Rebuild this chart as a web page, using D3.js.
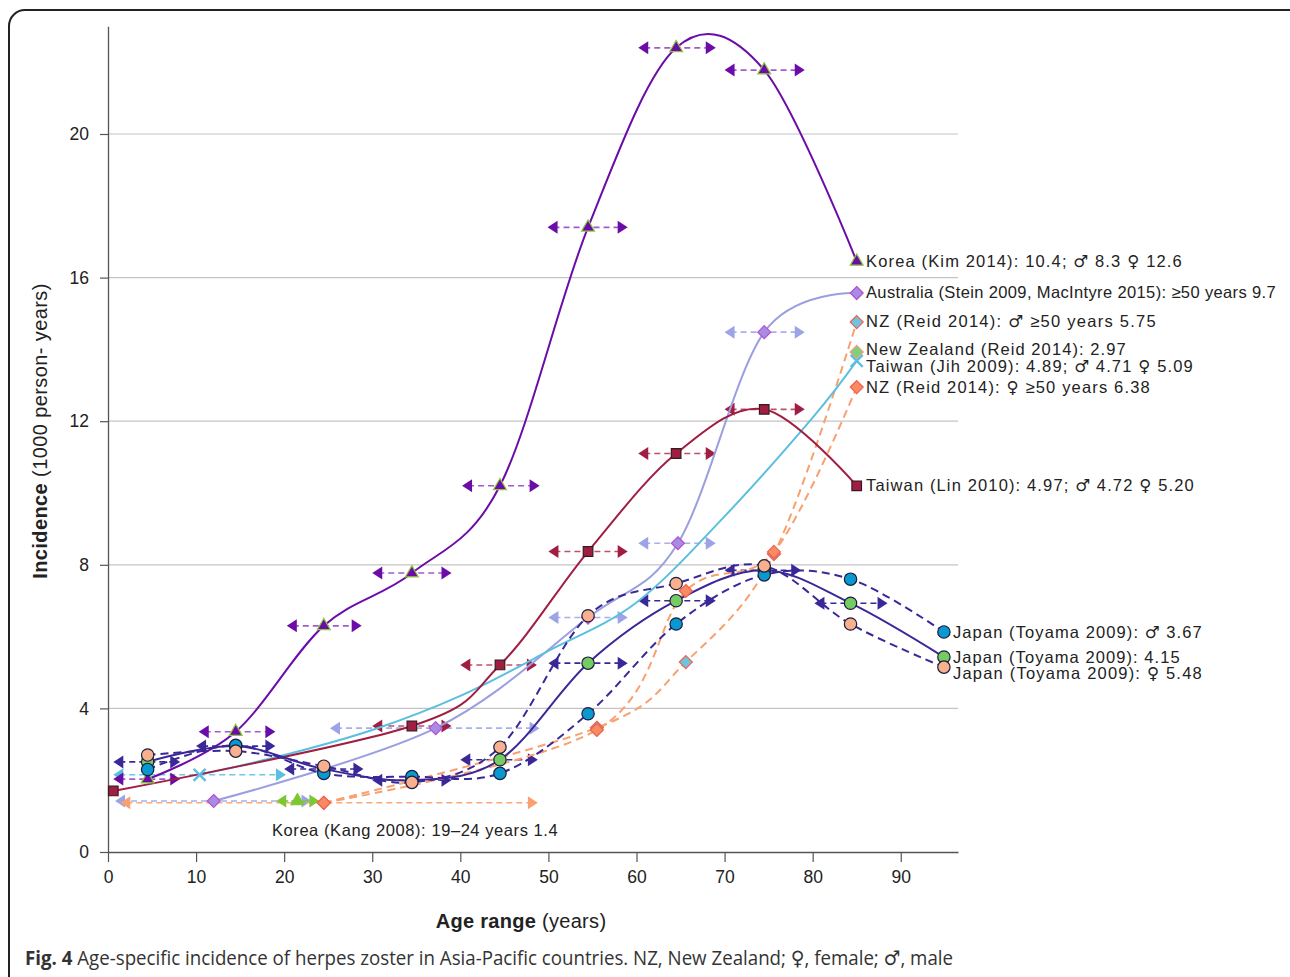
<!DOCTYPE html>
<html>
<head>
<meta charset="utf-8">
<script src="https://cdn.jsdelivr.net/npm/d3@7"></script>
<style>
  body { margin: 0; background: #fff; }
  text { font-family: "Liberation Sans", Arial, sans-serif; }
</style>
</head>
<body>
<div id="wrapper"></div>
<script>
// ---- data ----
const yTicks = [0, 4, 8, 12, 16, 20];
const xTicks = [0, 10, 20, 30, 40, 50, 60, 70, 80, 90];

// Korea (Kim 2014)
const kimAge = [4.5, 14.5, 24.5, 34.5, 44.5, 54.5, 64.5, 74.5, 85];
const kimInc = [2.03, 3.35, 6.3, 7.77, 10.2, 17.4, 22.4, 21.78, 16.45];
const kimLo = [0.6, 10.3, 20.3, 30.0, 40.2, 49.9, 60.2, 70.0, null];
const kimHi = [8.2, 19.0, 28.8, 39.0, 49.0, 59.0, 69.0, 79.1, null];

// Australia (Stein 2009, MacIntyre 2015)
const ausAge = [12, 37.2, 54.5, 64.7, 74.5, 85];
const ausInc = [1.42, 3.45, 6.53, 8.6, 14.48, 15.57];
const ausLo = [0.8, 25.2, 50.0, 60.2, 70.0, null];
const ausHi = [23.1, 49.0, 59.0, 69.0, 79.1, null];

// Taiwan (Lin 2010)
const linAge = [0.6, 34.5, 44.5, 54.5, 64.5, 74.5, 85];
const linInc = [1.7, 3.51, 5.21, 8.37, 11.1, 12.33, 10.2];
const linLo = [null, 30.0, 40.0, 50.0, 60.2, 70.0, null];
const linHi = [null, 39.0, 48.7, 59.0, 69.0, 79.1, null];

// Taiwan (Jih 2009)
const jihAge = [10.4, 20, 30, 40, 50, 60, 70, 80, 85];
const jihInc = [2.15, 2.7, 3.4, 4.35, 5.6, 6.95, 9.35, 12.1, 13.68];
const jihLo = [0.6, null, null, null, null, null, null, null, null];
const jihHi = [20.2, null, null, null, null, null, null, null, null];
const jihMarked = [true, false, false, false, false, false, false, false, true];

// NZ (Reid 2014)
const nzAge = [24.5, 55.5, 65.6, 75.6, 85];
const nzFemale = [1.37, 3.4, 7.27, 8.36, 12.95];
const nzMale = [1.37, 3.46, 5.29, 8.3, 14.76];
const nzLo = [1.4, null, null, null, null];
const nzHi = [48.8, null, null, null, null];
const nzAllAge = [85];
const nzAll = [13.93];

// Korea (Kang 2008)
const kangAge = [21.5];
const kangInc = [1.42];
const kangLo = [19.1];
const kangHi = [24.0];

// Japan (Toyama 2009)
const japAge = [4.5, 14.5, 24.5, 34.5, 44.5, 54.5, 64.5, 74.5, 84.3, 94.9];
const japTotal = [2.51, 2.95, 2.31, 2.0, 2.57, 5.26, 7.0, 7.85, 6.93, 5.43];
const japMale = [2.3, 2.97, 2.19, 2.1, 2.19, 3.85, 6.35, 7.72, 7.6, 6.13];
const japFemale = [2.7, 2.81, 2.39, 1.94, 2.92, 6.58, 7.48, 7.97, 6.35, 5.15];
const japLo = [0.6, 10.0, 20.0, 30.0, 40.0, 50.0, 60.2, 70.0, 80.2, null];
const japHi = [8.2, 19.0, 29.0, 39.0, 48.8, 59.0, 69.0, 78.7, 88.5, null];

// end labels: text and the incidence value they sit at
const labelTexts = [
  'Korea (Kim 2014): 10.4; \u2642 8.3 \u2640 12.6',
  'Australia (Stein 2009, MacIntyre 2015): \u226550 years 9.7',
  'NZ (Reid 2014): \u2642 \u226550  years 5.75',
  'New Zealand (Reid 2014): 2.97',
  'Taiwan (Jih 2009): 4.89; \u2642 4.71 \u2640 5.09',
  'NZ (Reid 2014): \u2640 \u226550 years 6.38',
  'Taiwan (Lin 2010): 4.97; \u2642 4.72 \u2640 5.20'
];
const labelAt = [16.46, 15.6, 14.79, 14.01, 13.54, 12.95, 10.22];
const japLabelTexts = [
  'Japan (Toyama 2009): \u2642 3.67',
  'Japan (Toyama 2009): 4.15',
  'Japan (Toyama 2009): \u2640 5.48'
];
const japLabelAt = [6.13, 5.43, 4.99];
const kangLabel = 'Korea (Kang 2008): 19\u201324 years 1.4';

// layout: printed widths of the end labels in the figure
const labelWidths = [316, 410, 290, 260, 327, 284, 328];
const japLabelWidths = [249, 227, 249];

// ---- chart ----
const width = 1290, height = 977;
const svg = d3.select('#wrapper').append('svg')
  .attr('width', width).attr('height', height);

svg.append('rect')
  .attr('x', 9).attr('y', 10)
  .attr('width', 1295).attr('height', 990)
  .attr('rx', 16)
  .attr('fill', 'none').attr('stroke', '#222').attr('stroke-width', 2);

const x = d3.scaleLinear().domain([0, 96.5]).range([108, 958]);
const y = d3.scaleLinear().domain([0, 23]).range([852, 26.3]);

// gridlines
svg.append('g').selectAll('line')
  .data(yTicks.filter(d => d > 0))
  .join('line')
  .attr('x1', x(0)).attr('x2', x(96.5))
  .attr('y1', d => y(d)).attr('y2', d => y(d))
  .attr('stroke', '#c4c4c4').attr('stroke-width', 1.2);

// axes
const yAxis = svg.append('g')
  .attr('transform', `translate(${x(0)},0)`)
  .call(d3.axisLeft(y).tickValues(yTicks).tickSize(8).tickSizeOuter(0).tickPadding(11));
const xAxis = svg.append('g')
  .attr('transform', `translate(0,${y(0)})`)
  .call(d3.axisBottom(x).tickValues(xTicks).tickSize(10).tickSizeOuter(0).tickPadding(9));
[xAxis, yAxis].forEach(a => {
  a.select('.domain').attr('stroke', '#555').attr('stroke-width', 1.3);
  a.selectAll('.tick line').attr('stroke', '#555').attr('stroke-width', 1.2);
  a.selectAll('.tick text')
    .style('font-family', '"Liberation Sans", Arial, sans-serif')
    .style('font-size', '17.5px').attr('fill', '#222');
});

// axis titles
const yTitle = svg.append('text')
  .attr('transform', 'translate(47,431) rotate(-90)')
  .attr('text-anchor', 'middle')
  .style('font-size', '20px').style('letter-spacing', '0.4px').attr('fill', '#222');
yTitle.append('tspan').style('font-weight', 'bold').text('Incidence');
yTitle.append('tspan').text('  (1000 person- years)');

const xTitle = svg.append('text')
  .attr('x', 521).attr('y', 928)
  .attr('text-anchor', 'middle')
  .style('font-size', '20px').style('letter-spacing', '0.3px').attr('fill', '#222');
xTitle.append('tspan').style('font-weight', 'bold').text('Age range');
xTitle.append('tspan').text('  (years)');

// labels: sex symbols set in DejaVu so they keep full size
function writeLabel(sel, str) {
  str.split(/([\u2640\u2642])/).filter(s => s.length).forEach(part => {
    const t = sel.append('tspan').text(part);
    if (part === '\u2640' || part === '\u2642') t.style('font-family', '"DejaVu Sans", sans-serif').style('font-weight', 'normal');
  });
}

// caption
const cap = svg.append('text')
  .attr('x', 25).attr('y', 965)
  .attr('textLength', 928).attr('lengthAdjust', 'spacingAndGlyphs')
  .style('font-family', '"Liberation Sans Narrow", "Open Sans", sans-serif')
  .style('font-size', '20px').attr('fill', '#333');
cap.append('tspan').style('font-weight', 'bold').text('Fig. 4');
writeLabel(cap, ' Age-specific incidence of herpes zoster in Asia-Pacific countries. NZ, New Zealand; \u2640, female; \u2642, male');

// helpers
const zip = (xs, ys) => xs.map((d, i) => ({ x: d, y: ys[i], i }));
// spreadsheet-style smoothing (uniform Catmull-Rom)
const line = d3.line().x(d => x(d.x)).y(d => y(d.y)).curve(d3.curveCatmullRom.alpha(0));

const gBars = svg.append('g');
const gLines = svg.append('g');
const gMarks = svg.append('g');

function drawBars(xs, ys, lo, hi, dashColor, arrowColor) {
  const data = xs.map((d, i) => ({ y: ys[i], lo: lo[i], hi: hi[i] })).filter(d => d.lo != null);
  const g = gBars.append('g');
  g.selectAll('line').data(data).join('line')
    .attr('x1', d => x(d.lo) + 6).attr('x2', d => x(d.hi) - 6)
    .attr('y1', d => y(d.y)).attr('y2', d => y(d.y))
    .attr('stroke', dashColor).attr('stroke-width', 1.6)
    .attr('stroke-dasharray', '6,4');
  g.selectAll('path.l').data(data).join('path').attr('class', 'l')
    .attr('d', d => `M${x(d.lo)},${y(d.y)}l10,-6.5v13z`)
    .attr('fill', arrowColor);
  g.selectAll('path.r').data(data).join('path').attr('class', 'r')
    .attr('d', d => `M${x(d.hi)},${y(d.y)}l-10,-6.5v13z`)
    .attr('fill', arrowColor);
}

function drawLine(xs, ys, color, dashed) {
  gLines.append('path')
    .attr('d', line(zip(xs, ys)))
    .attr('fill', 'none').attr('stroke', color)
    .attr('stroke-width', 2)
    .attr('stroke-dasharray', dashed ? '8,5' : null);
}

const diamond = 'M0,-6.5L6.5,0L0,6.5L-6.5,0Z';
function drawMarks(xs, ys, shape, fill, stroke, keep) {
  const data = zip(xs, ys).filter(d => !keep || keep[d.i]);
  const sel = gMarks.append('g').selectAll('path').data(data).join('path')
    .attr('transform', d => `translate(${x(d.x)},${y(d.y)})`)
    .attr('fill', fill).attr('stroke', stroke).attr('stroke-width', 1.2);
  if (shape === 'triangle') sel.attr('d', d3.symbol(d3.symbolTriangle, 72)());
  if (shape === 'square') sel.attr('d', d3.symbol(d3.symbolSquare, 92)());
  if (shape === 'circle') sel.attr('d', d3.symbol(d3.symbolCircle, 120)());
  if (shape === 'diamond') sel.attr('d', diamond);
  if (shape === 'x') sel.attr('d', 'M-6,-6L6,6M-6,6L6,-6').attr('stroke-width', 2.4).attr('fill', 'none');
}

// error bars
drawBars(ausAge, ausInc, ausLo, ausHi, '#a9afe9', '#9ca3e6');
drawBars(nzAge, nzFemale, nzLo, nzHi, '#f9a878', '#f9a070');
drawBars(jihAge, jihInc, jihLo, jihHi, '#6ec7e6', '#5bbfe0');
drawBars(kangAge, kangInc, kangLo, kangHi, '#7dc832', '#7dc832');
drawBars(linAge, linInc, linLo, linHi, '#c0506a', '#a01e42');
drawBars(kimAge, kimInc, kimLo, kimHi, '#a25ad0', '#6c0ca8');
drawBars(japAge, japTotal, japLo, japHi, '#3b2898', '#3b2898');

// lines
drawLine(nzAge, nzFemale, '#f9a070', true);
drawLine(nzAge, nzMale, '#f9a070', true);
drawLine(ausAge, ausInc, '#9a9fe0', false);
drawLine(jihAge, jihInc, '#5bbfe0', false);
drawLine(linAge, linInc, '#a01e42', false);
drawLine(kimAge, kimInc, '#6c0ca8', false);
drawLine(japAge, japMale, '#3b2898', true);
drawLine(japAge, japFemale, '#3b2898', true);
drawLine(japAge, japTotal, '#3b2898', false);

// markers
drawMarks(nzAge, nzMale, 'diamond', '#6ec3e3', '#f0604a');
drawMarks(nzAge, nzFemale, 'diamond', '#f98a62', '#f0604a');
drawMarks(nzAllAge, nzAll, 'diamond', '#7fd07c', '#f39a78');
drawMarks(ausAge, ausInc, 'diamond', '#a68ce2', '#b64fd2');
drawMarks(jihAge, jihInc, 'x', 'none', '#5bbfe0', jihMarked);
drawMarks(kangAge, kangInc, 'triangle', '#7dc832', '#7dc832');
drawMarks(linAge, linInc, 'square', '#a01e42', '#3a1a22');
drawMarks(kimAge, kimInc, 'triangle', '#6c0ca8', '#8cc63e');
drawMarks(japAge, japTotal, 'circle', '#74cc62', '#1c1c3c');
drawMarks(japAge, japMale, 'circle', '#0a98d0', '#1c1c3c');
drawMarks(japAge, japFemale, 'circle', '#f8b08e', '#1c1c3c');

// end labels
const gLab = svg.append('g')
  .style('font-size', '16.5px').style('letter-spacing', '0.3px').attr('fill', '#222');
gLab.selectAll('text.end').data(labelTexts).join('text').attr('class', 'end')
  .attr('x', 866).attr('y', (d, i) => y(labelAt[i]) + 6)
  .attr('textLength', (d, i) => labelWidths[i]).attr('lengthAdjust', 'spacing')
  .each(function (d) { writeLabel(d3.select(this), d); });
gLab.selectAll('text.jap').data(japLabelTexts).join('text').attr('class', 'jap')
  .attr('x', 953).attr('y', (d, i) => y(japLabelAt[i]) + 6)
  .attr('textLength', (d, i) => japLabelWidths[i]).attr('lengthAdjust', 'spacing')
  .each(function (d) { writeLabel(d3.select(this), d); });
gLab.append('text').attr('x', 272).attr('y', 830 + 6)
  .attr('textLength', 286).attr('lengthAdjust', 'spacing')
  .text(kangLabel);
</script>
</body>
</html>
